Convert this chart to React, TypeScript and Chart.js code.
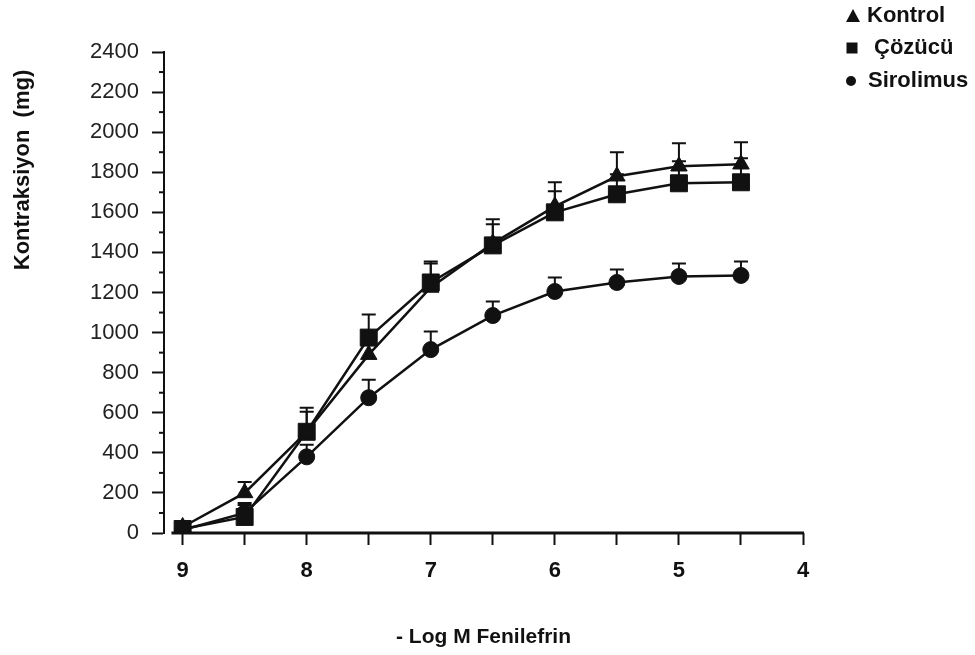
import React, { useEffect, useRef } from 'react';
import { Chart, registerables } from 'chart.js';

Chart.register(...registerables);

const doses = [9, 8.5, 8, 7.5, 7, 6.5, 6, 5.5, 5, 4.5];
const kontrol = [30, 200, 505, 890, 1225, 1445, 1630, 1780, 1830, 1840];
const kontrolSem = [15, 55, 100, 90, 130, 120, 120, 120, 115, 110];
const cozucu = [20, 80, 505, 975, 1250, 1435, 1600, 1690, 1745, 1750];
const cozucuSem = [10, 70, 120, 115, 95, 105, 105, 100, 110, 120];
const sirolimus = [15, 100, 380, 675, 915, 1085, 1205, 1250, 1280, 1285];
const sirolimusSem = [10, 40, 60, 90, 90, 70, 70, 65, 65, 70];

const seriesNames = ['Kontrol', 'Çözücü', 'Sirolimus'];
const xTickValues = [9, 8.5, 8, 7.5, 7, 6.5, 6, 5.5, 5, 4.5, 4];
const xTickLabels = ['9', '', '8', '', '7', '', '6', '', '5', '', '4'];
const yMajorTicks = [0, 200, 400, 600, 800, 1000, 1200, 1400, 1600, 1800, 2000, 2200, 2400];
const yMinorTicks = [100, 300, 500, 700, 900, 1100, 1300, 1500, 1700, 1900, 2100, 2300];
const xTitle = '- Log M Fenilefrin';
const yTitle = 'Kontraksiyon  (mg)';

const INK = '#111';
const FONT = '"Liberation Sans", Arial, sans-serif';

const errorBars = {
  id: 'errorBars',
  beforeDatasetsDraw(chart: any) {
    const ctx = chart.ctx;
    const xs = chart.scales.x;
    const ys = chart.scales.y;
    const sems = [kontrolSem, cozucuSem, sirolimusSem];
    const vals = [kontrol, cozucu, sirolimus];
    ctx.save();
    ctx.strokeStyle = INK;
    ctx.lineWidth = 2;
    sems.forEach((sem, i) => {
      doses.forEach((d, j) => {
        const x = xs.getPixelForValue(d);
        const y0 = ys.getPixelForValue(vals[i][j]);
        const y1 = ys.getPixelForValue(vals[i][j] + sem[j]);
        ctx.beginPath();
        ctx.moveTo(x, y0);
        ctx.lineTo(x, y1);
        ctx.moveTo(x - 7, y1);
        ctx.lineTo(x + 7, y1);
        ctx.stroke();
      });
    });
    ctx.restore();
  },
};

const extras = {
  id: 'extras',
  beforeDatasetsDraw(chart: any) {
    const ctx = chart.ctx;
    const xs = chart.scales.x;
    const bottom = chart.chartArea.bottom;
    ctx.save();
    ctx.strokeStyle = INK;
    ctx.lineWidth = 3;
    ctx.beginPath();
    ctx.moveTo(xs.getPixelForValue(9.09), bottom);
    ctx.lineTo(xs.getPixelForValue(4) + 1, bottom);
    ctx.stroke();
    ctx.restore();
  },
  afterDraw(chart: any) {
    const ctx = chart.ctx;
    const ys = chart.scales.y;
    const left = chart.chartArea.left;
    ctx.save();
    ctx.strokeStyle = INK;
    ctx.lineWidth = 2;
    yMinorTicks.forEach((v) => {
      const y = ys.getPixelForValue(v);
      ctx.beginPath();
      ctx.moveTo(left - 5, y);
      ctx.lineTo(left, y);
      ctx.stroke();
    });
    ctx.fillStyle = INK;
    ctx.font = `bold 22px ${FONT}`;
    ctx.textAlign = 'center';
    ctx.textBaseline = 'middle';
    ctx.translate(23, 170);
    ctx.rotate(-Math.PI / 2);
    ctx.fillText(yTitle, 0, 0);
    ctx.restore();

    ctx.save();
    ctx.fillStyle = INK;
    ctx.font = `bold 22px ${FONT}`;
    ctx.textBaseline = 'middle';
    ctx.textAlign = 'left';
    const rows = [
      { y: 16, tx: 867, mx: 853, shape: 'tri' },
      { y: 48, tx: 874, mx: 852, shape: 'sq' },
      { y: 81, tx: 868, mx: 851, shape: 'dot' },
    ];
    rows.forEach((r, i) => {
      ctx.beginPath();
      if (r.shape === 'tri') {
        ctx.moveTo(r.mx, r.y - 7);
        ctx.lineTo(r.mx + 7, r.y + 6);
        ctx.lineTo(r.mx - 7, r.y + 6);
        ctx.closePath();
      } else if (r.shape === 'sq') {
        ctx.rect(r.mx - 5.5, r.y - 5.5, 11, 11);
      } else {
        ctx.arc(r.mx, r.y, 5, 0, Math.PI * 2);
      }
      ctx.fill();
      ctx.fillText(seriesNames[i], r.tx, r.y);
    });
    ctx.restore();
  },
};

export default function App() {
  const ref = useRef<HTMLCanvasElement | null>(null);
  useEffect(() => {
    if (!ref.current) return;
    const mk = (vals: number[]) => doses.map((d, i) => ({ x: d, y: vals[i] }));
    const common = {
      borderColor: INK,
      backgroundColor: INK,
      pointBackgroundColor: INK,
      pointBorderColor: INK,
      borderWidth: 2.5,
      pointBorderWidth: 1,
      tension: 0,
    };
    const chart = new Chart(ref.current, {
      type: 'line',
      data: {
        datasets: [
          { ...common, label: seriesNames[0], data: mk(kontrol), pointStyle: 'triangle', pointRadius: 9.5 },
          { ...common, label: seriesNames[1], data: mk(cozucu), pointStyle: 'rect', pointRadius: 12 },
          { ...common, label: seriesNames[2], data: mk(sirolimus), pointStyle: 'circle', pointRadius: 8 },
        ],
      },
      options: {
        animation: false,
        responsive: true,
        maintainAspectRatio: false,
        layout: { padding: { left: 0, top: 52, right: 172, bottom: 0 } },
        plugins: { legend: { display: false }, tooltip: { enabled: false } },
        scales: {
          x: {
            type: 'linear',
            reverse: true,
            min: 4,
            max: 9.15,
            afterBuildTicks: (s: any) => {
              s.ticks = xTickValues.map((v) => ({ value: v }));
            },
            afterFit: (s: any) => {
              s.height = 122;
            },
            ticks: {
              autoSkip: false,
              maxRotation: 0,
              padding: 13,
              color: INK,
              font: { family: FONT, size: 22, weight: 'bold' },
              callback: (v: any) => {
                const i = xTickValues.indexOf(Number(v));
                return i >= 0 ? xTickLabels[i] : '';
              },
            },
            grid: { drawOnChartArea: false, tickLength: 12, tickWidth: 2, color: INK },
            border: { display: false },
            title: {
              display: true,
              text: xTitle,
              color: INK,
              font: { family: FONT, size: 21, weight: 'bold' },
              padding: { top: 0, bottom: 5 },
            },
          },
          y: {
            type: 'linear',
            min: 0,
            max: 2400,
            afterBuildTicks: (s: any) => {
              s.ticks = yMajorTicks.map((v) => ({ value: v }));
            },
            afterFit: (s: any) => {
              s.width = 164;
            },
            ticks: {
              autoSkip: false,
              padding: 13,
              color: '#222',
              font: { family: FONT, size: 22 },
              callback: (v: any) => String(v),
            },
            grid: { drawOnChartArea: false, tickLength: 12, tickWidth: 2, color: INK },
            border: { color: INK, width: 2 },
          },
        },
      },
      plugins: [errorBars, extras],
    } as any);
    return () => chart.destroy();
  }, []);
  return (
    <div style={{ position: 'absolute', left: 0, top: 0, width: 975, height: 655, background: '#fff' }}>
      <canvas ref={ref} />
    </div>
  );
}
